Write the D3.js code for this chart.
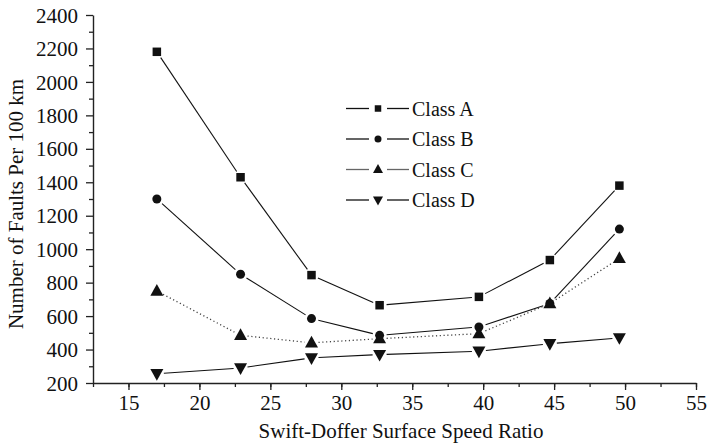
<!DOCTYPE html>
<html>
<head>
<meta charset="utf-8">
<script src="https://cdn.jsdelivr.net/npm/d3@7"></script>
<style>
  body { margin: 0; background: #fff; }
</style>
</head>
<body>
<div id="chart"></div>
<script>
// data
var speedRatio = [17, 22.9, 27.9, 32.7, 39.7, 44.7, 49.6];
var classA = [2180, 1430, 845, 665, 715, 935, 1380];
var classB = [1300, 850, 585, 485, 535, 675, 1120];
var classC = [750, 485, 440, 465, 495, 675, 945];
var classD = [255, 290, 350, 370, 390, 435, 470];
var seriesNames = ["Class A", "Class B", "Class C", "Class D"];
var xTicks = [15, 20, 25, 30, 35, 40, 45, 50, 55];
var yTicks = [200, 400, 600, 800, 1000, 1200, 1400, 1600, 1800, 2000, 2200, 2400];

var width = 708, height = 447;
var serif = "Liberation Serif, Times New Roman, Times, serif";

var svg = d3.select("#chart").append("svg")
    .attr("width", width)
    .attr("height", height)
    .attr("font-family", serif);

var x = d3.scaleLinear().domain([12.5, 55]).range([93, 696]);
var y = d3.scaleLinear().domain([200, 2400]).range([383, 15]);

// minor ticks first, then major with labels
svg.append("g")
    .attr("transform", "translate(0,383)")
    .call(d3.axisBottom(x).tickValues(d3.range(12.5, 55.1, 2.5)).tickSize(4).tickFormat(""))
    .call(g => g.select(".domain").remove());

svg.append("g")
    .attr("transform", "translate(93,0)")
    .call(d3.axisLeft(y).tickValues(d3.range(300, 2400, 200)).tickSize(4).tickFormat(""))
    .call(g => g.select(".domain").remove());

var xAxis = svg.append("g")
    .attr("transform", "translate(0,383)")
    .call(d3.axisBottom(x).tickValues(xTicks).tickSize(7).tickSizeOuter(0).tickPadding(5).tickFormat(d3.format("d")));

var yAxis = svg.append("g")
    .attr("transform", "translate(93,0)")
    .call(d3.axisLeft(y).tickValues(yTicks).tickSize(7).tickSizeOuter(0).tickPadding(8).tickFormat(d3.format("d")));

svg.selectAll("g").attr("font-family", serif);
svg.selectAll(".tick line").attr("stroke", "#222").attr("stroke-width", 1.3);
svg.selectAll(".domain").attr("stroke", "#222").attr("stroke-width", 1.4);
svg.selectAll(".tick text")
    .attr("font-size", 21)
    .attr("fill", "#111");
yAxis.selectAll(".tick text").attr("dy", "0.34em");

// axis titles
svg.append("text")
    .attr("x", 401)
    .attr("y", 438)
    .attr("text-anchor", "middle")
    .attr("font-size", 21)
    .attr("fill", "#111")
    .text("Swift-Doffer Surface Speed Ratio");

svg.append("text")
    .attr("transform", "translate(23,204) rotate(-90)")
    .attr("text-anchor", "middle")
    .attr("font-size", 21)
    .attr("fill", "#111")
    .text("Number of Faults Per 100 km");

var series = [
    {name: seriesNames[0], values: classA, marker: "square", dash: null},
    {name: seriesNames[1], values: classB, marker: "circle", dash: null},
    {name: seriesNames[2], values: classC, marker: "up", dash: "1.2,2.6"},
    {name: seriesNames[3], values: classD, marker: "down", dash: null}
];

function markerPath(type, s) {
    if (type === "square") return d3.symbol(d3.symbolSquare, s * s)();
    if (type === "circle") return d3.symbol(d3.symbolCircle, Math.PI * s * s / 4)();
    var h = s * 0.9, w = s / 2;
    if (type === "up") return "M0," + (-h * 0.6) + "L" + w + "," + (h * 0.4) + "L" + (-w) + "," + (h * 0.4) + "Z";
    return "M0," + (h * 0.6) + "L" + w + "," + (-h * 0.4) + "L" + (-w) + "," + (-h * 0.4) + "Z";
}

var markerSize = {square: 8.5, circle: 9, up: 13, down: 13};
var gap = 7;

series.forEach(function (s) {
    var pts = s.values.map((v, i) => [x(speedRatio[i]), y(v)]);
    // segments stop short of the markers, like the original
    var segs = d3.pairs(pts).map(function (p) {
        var dx = p[1][0] - p[0][0], dy = p[1][1] - p[0][1];
        var len = Math.sqrt(dx * dx + dy * dy);
        var ux = dx / len, uy = dy / len;
        return [[p[0][0] + ux * gap, p[0][1] + uy * gap], [p[1][0] - ux * gap, p[1][1] - uy * gap]];
    });
    var g = svg.append("g");
    g.selectAll("line")
        .data(segs)
        .enter().append("line")
        .attr("x1", d => d[0][0]).attr("y1", d => d[0][1])
        .attr("x2", d => d[1][0]).attr("y2", d => d[1][1])
        .attr("stroke", s.dash ? "#444" : "#111")
        .attr("stroke-width", s.dash ? 1.3 : 1.1)
        .attr("stroke-dasharray", s.dash);
    g.selectAll("path")
        .data(pts)
        .enter().append("path")
        .attr("transform", d => "translate(" + d[0] + "," + d[1] + ")")
        .attr("d", markerPath(s.marker, markerSize[s.marker]))
        .attr("fill", "#111");
});

// legend
var legendSize = {square: 6.5, circle: 7, up: 10, down: 10};
var legend = svg.selectAll(".legendRow")
    .data(series)
    .enter().append("g")
    .attr("class", "legendRow")
    .attr("transform", (d, i) => "translate(0," + (108.5 + i * 30.5) + ")");

legend.append("line").attr("x1", 346).attr("x2", 369).attr("y1", 0).attr("y2", 0)
    .attr("stroke", d => d.dash ? "#666" : "#111").attr("stroke-width", 1.3);
legend.append("line").attr("x1", 387).attr("x2", 409).attr("y1", 0).attr("y2", 0)
    .attr("stroke", d => d.dash ? "#666" : "#111").attr("stroke-width", 1.3);
legend.append("path")
    .attr("transform", "translate(378,0)")
    .attr("d", d => markerPath(d.marker, legendSize[d.marker]))
    .attr("fill", "#111");
legend.append("text")
    .attr("x", 412)
    .attr("dy", "0.35em")
    .attr("font-size", 20)
    .attr("fill", "#111")
    .text(d => d.name);
</script>
</body>
</html>
